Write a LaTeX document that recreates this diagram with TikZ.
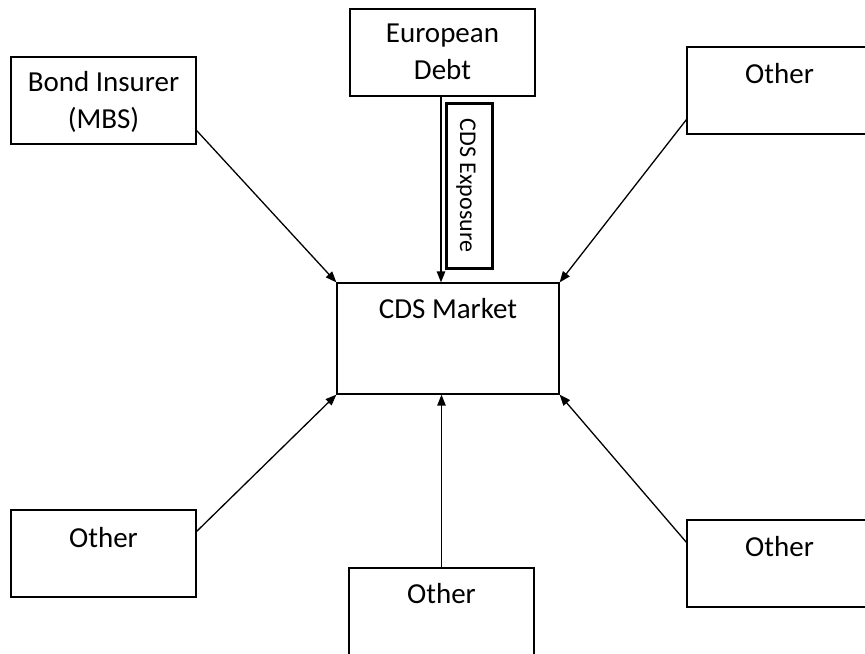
\documentclass[tikz,border=0pt]{standalone}
\usepackage{fontspec}
\setmainfont{Carlito}
\usetikzlibrary{calc,arrows.meta}

\begin{document}
\begin{tikzpicture}[x=0.5pt, y=-0.5pt,
    box/.style={draw, line width=0.6pt, minimum width=92.5pt, minimum height=43.5pt, inner sep=0pt},
    lbl/.style={font=\fontsize{14.5}{18.3}\selectfont, align=center, inner sep=0pt},
    feed/.style={line width=0.65pt, -{Triangle[length=5.5pt, width=4.2pt]}}]
    % Page frame
    \useasboundingbox (0,0) rectangle (865,653);
    \clip (0,0) rectangle (865,653);

    % Central market box
    \node[box, minimum width=111pt, minimum height=55.5pt] (market) at (448,338.5) {};
    \node[lbl] (markettxt) at (448,309) {CDS Market};

    % Named sources
    \node[box] (bond) at (103.5,100.5) {};
    \node[lbl] (bondtxt) at (103.5,102) {Bond Insurer\\(MBS)};
    \node[box] (euro) at (442.5,52.5) {};
    \node[lbl] (eurotxt) at (442.5,52) {European\\Debt};

    % Other sources
    \foreach \name/\x/\y/\ty in {otr/779.5/90.5/74, obl/103.5/553.5/538, obc/441.5/611.5/594, obr/779.5/563.5/547} {
        \node[box] (\name) at (\x,\y) {};
        \node[lbl] (\name txt) at (\x,\ty) {Other};
    }

    % Exposure tag on the vertical link
    \node[draw, line width=1.5pt, minimum width=23pt, minimum height=82.5pt, inner sep=0pt] (expo) at (469,185.5) {};
    \node[font=\fontsize{12}{14}\selectfont, rotate=-90, inner sep=0pt] (expotxt) at (466,185.5) {CDS Exposure};

    % Links into the market
    \draw[feed] ($(bond.north east)!0.84!(bond.south east)$) -- (market.north west);
    \draw[feed] ([xshift=-0.75pt]euro.south) -- ([xshift=-0.75pt]euro.south |- market.north);
    \draw[feed] ($(otr.north west)!0.83!(otr.south west)$) -- (market.north east);
    \draw[feed] ($(obl.north east)!0.25!(obl.south east)$) -- (market.south west);
    \draw[feed] (obc.north) -- (obc.north |- market.south);
    \draw[feed] ($(obr.north west)!0.26!(obr.south west)$) -- (market.south east);
\end{tikzpicture}
\end{document}
